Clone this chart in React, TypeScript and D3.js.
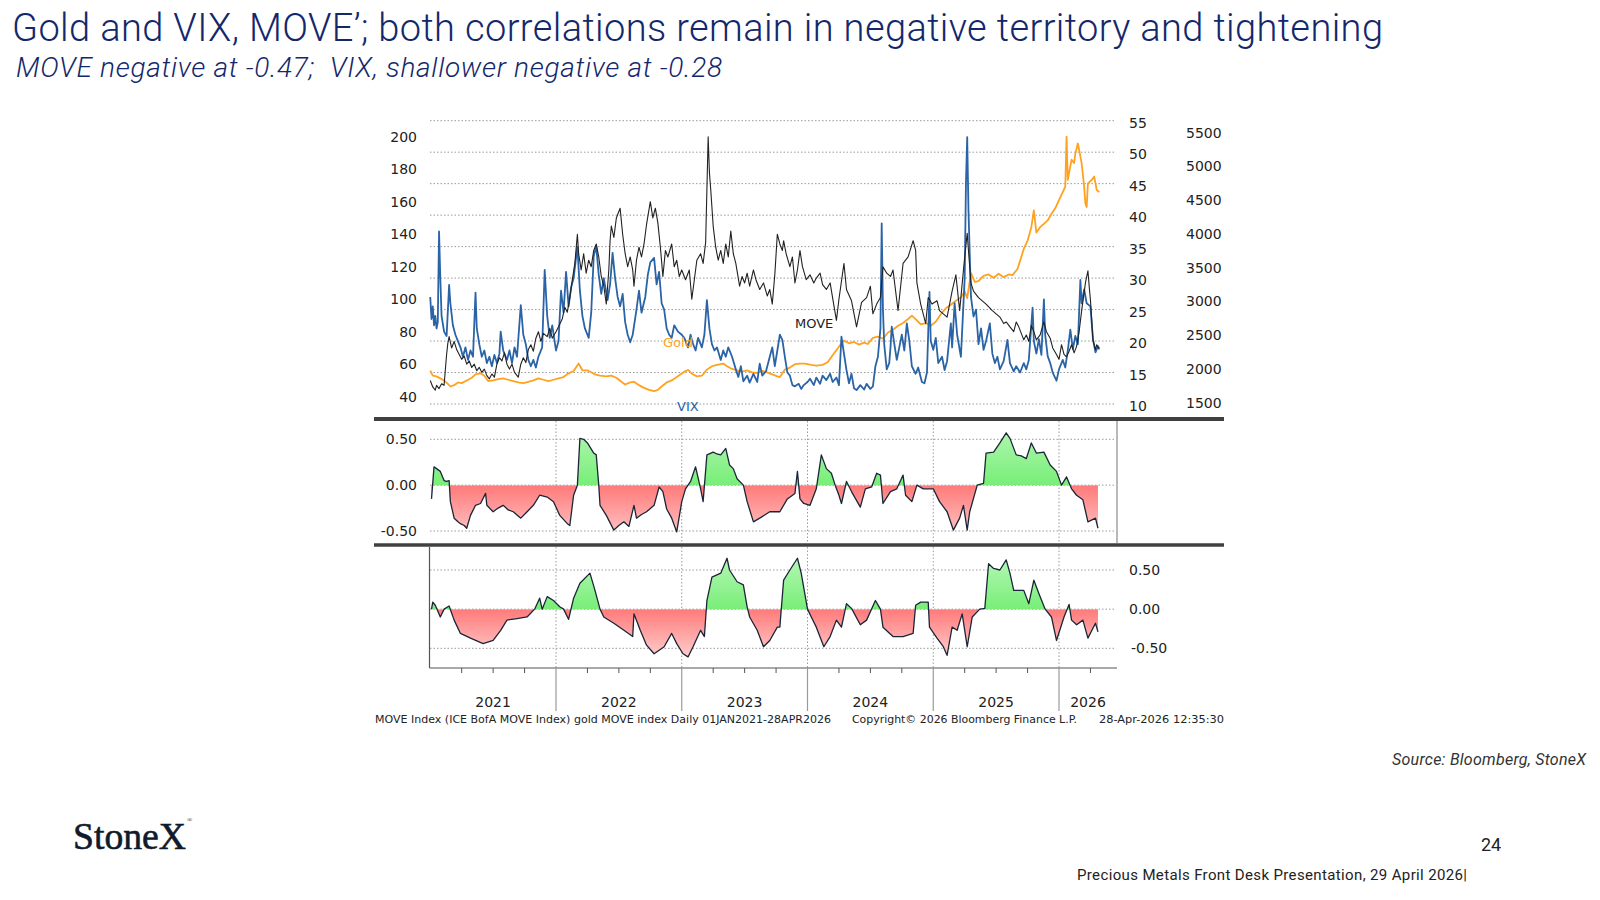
import React from "react";
import * as d3 from "d3";

type P = [number, number];

// ---------- DATA (fractional year, value) ----------
const YEARS = [2021, 2022, 2023, 2024, 2025, 2026];
const MOVE_TICKS = [40, 60, 80, 100, 120, 140, 160, 180, 200];
const VIX_TICKS = [10, 15, 20, 25, 30, 35, 40, 45, 50, 55];
const GOLD_TICKS = [1500, 2000, 2500, 3000, 3500, 4000, 4500, 5000, 5500];
const CORR_TICKS = [0.5, 0, -0.5];

const VIX: P[] = [
  [2021.0, 27.0], [2021.01, 23.5], [2021.02, 25.5], [2021.03, 22.5], [2021.04, 24.0], [2021.05, 22.0], [2021.06, 23.0],
  [2021.07, 37.4], [2021.08, 30.0], [2021.09, 24.0], [2021.11, 21.5], [2021.13, 20.8], [2021.15, 28.9], [2021.16, 26.0],
  [2021.18, 22.5], [2021.2, 21.0], [2021.22, 20.0], [2021.24, 19.0], [2021.26, 17.5], [2021.28, 19.0], [2021.3, 17.0],
  [2021.32, 18.5], [2021.34, 17.5], [2021.36, 27.7], [2021.37, 22.0], [2021.39, 19.5], [2021.41, 17.5], [2021.43, 18.5],
  [2021.45, 16.5], [2021.47, 17.5], [2021.49, 16.0], [2021.51, 17.8], [2021.53, 16.5], [2021.55, 18.0], [2021.56, 21.5],
  [2021.58, 18.5], [2021.61, 17.0], [2021.63, 18.5], [2021.65, 16.5], [2021.67, 19.0], [2021.69, 17.5], [2021.72, 25.7],
  [2021.74, 21.0], [2021.76, 19.5], [2021.78, 17.0], [2021.8, 16.0], [2021.82, 17.0], [2021.84, 15.8], [2021.86, 17.5],
  [2021.89, 19.0], [2021.91, 31.3], [2021.93, 24.0], [2021.95, 20.5], [2021.97, 22.5], [2022.0, 18.5], [2022.02, 20.0],
  [2022.04, 28.0], [2022.06, 24.5], [2022.08, 31.0], [2022.1, 25.5], [2022.12, 28.5], [2022.14, 30.0], [2022.17, 35.0],
  [2022.19, 28.0], [2022.21, 24.0], [2022.23, 22.0], [2022.26, 20.5], [2022.28, 24.5], [2022.3, 33.5], [2022.32, 35.0],
  [2022.34, 30.5], [2022.36, 27.5], [2022.38, 30.0], [2022.41, 26.5], [2022.43, 29.0], [2022.45, 34.0], [2022.47, 30.0],
  [2022.49, 27.0], [2022.51, 25.5], [2022.53, 27.5], [2022.55, 23.0], [2022.57, 21.0], [2022.59, 19.8], [2022.61, 21.0],
  [2022.64, 25.0], [2022.66, 28.0], [2022.68, 24.5], [2022.71, 27.0], [2022.73, 30.5], [2022.75, 32.5], [2022.78, 33.2],
  [2022.8, 29.0], [2022.82, 31.0], [2022.84, 26.0], [2022.86, 25.0], [2022.88, 22.0], [2022.9, 21.0], [2022.92, 20.5],
  [2022.94, 22.5], [2022.97, 21.5], [2023.0, 21.0], [2023.02, 20.5], [2023.05, 19.0], [2023.07, 21.0], [2023.09, 19.5],
  [2023.11, 18.5], [2023.13, 20.5], [2023.16, 19.0], [2023.18, 21.0], [2023.2, 26.5], [2023.22, 22.0], [2023.24, 19.5],
  [2023.26, 18.5], [2023.28, 19.0], [2023.31, 17.0], [2023.33, 18.5], [2023.35, 17.5], [2023.37, 19.0], [2023.4, 17.5],
  [2023.43, 15.5], [2023.45, 14.3], [2023.47, 16.0], [2023.49, 13.6], [2023.52, 14.5], [2023.54, 13.4], [2023.57, 14.8],
  [2023.6, 13.5], [2023.62, 16.4], [2023.64, 14.5], [2023.67, 15.2], [2023.7, 17.5], [2023.72, 19.0], [2023.74, 16.0],
  [2023.76, 18.5], [2023.78, 21.0], [2023.8, 20.2], [2023.82, 17.5], [2023.84, 15.0], [2023.86, 14.5], [2023.88, 13.0],
  [2023.9, 12.8], [2023.93, 13.2], [2023.95, 12.4], [2023.97, 13.0], [2024.0, 13.5], [2024.02, 14.0], [2024.05, 13.0],
  [2024.07, 14.2], [2024.1, 13.2], [2024.12, 14.5], [2024.15, 13.8], [2024.18, 14.8], [2024.2, 13.5], [2024.23, 14.2],
  [2024.25, 13.0], [2024.27, 20.7], [2024.29, 18.0], [2024.31, 15.4], [2024.33, 13.3], [2024.35, 14.8], [2024.37, 12.5],
  [2024.39, 12.2], [2024.42, 13.0], [2024.45, 12.3], [2024.47, 13.2], [2024.5, 12.4], [2024.52, 12.8], [2024.54, 16.0],
  [2024.56, 17.5], [2024.58, 22.0], [2024.59, 38.7], [2024.6, 25.0], [2024.61, 19.5], [2024.63, 15.5], [2024.65, 16.5],
  [2024.66, 19.0], [2024.67, 22.3], [2024.69, 19.6], [2024.71, 17.0], [2024.73, 19.0], [2024.75, 21.0], [2024.77, 18.5],
  [2024.79, 22.8], [2024.81, 20.0], [2024.83, 16.0], [2024.86, 14.8], [2024.88, 15.8], [2024.91, 13.5], [2024.93, 13.3],
  [2024.95, 15.0], [2024.97, 27.8], [2024.98, 20.0], [2025.0, 18.6], [2025.02, 20.5], [2025.04, 16.5], [2025.07, 17.5],
  [2025.09, 15.4], [2025.11, 16.8], [2025.14, 22.8], [2025.15, 19.0], [2025.17, 26.0], [2025.19, 21.0], [2025.22, 17.5],
  [2025.25, 30.0], [2025.26, 45.0], [2025.27, 52.4], [2025.28, 40.8], [2025.29, 33.9], [2025.3, 27.0], [2025.32, 23.9],
  [2025.34, 25.0], [2025.36, 19.5], [2025.38, 22.0], [2025.4, 18.6], [2025.42, 20.0], [2025.45, 22.8], [2025.47, 18.0],
  [2025.49, 16.5], [2025.51, 17.5], [2025.53, 15.5], [2025.56, 16.8], [2025.59, 20.2], [2025.61, 16.5], [2025.64, 15.2],
  [2025.66, 16.0], [2025.69, 15.0], [2025.72, 16.5], [2025.74, 15.5], [2025.76, 17.0], [2025.79, 25.3], [2025.8, 20.0],
  [2025.82, 18.0], [2025.84, 20.3], [2025.86, 17.8], [2025.88, 26.6], [2025.89, 21.0], [2025.91, 17.6], [2025.93, 16.5],
  [2025.95, 15.0], [2025.98, 13.7], [2026.0, 15.5], [2026.03, 17.0], [2026.05, 15.8], [2026.07, 18.5], [2026.09, 21.8],
  [2026.11, 18.7], [2026.13, 20.8], [2026.15, 19.5], [2026.17, 29.7], [2026.18, 26.0], [2026.2, 28.2], [2026.22, 26.0],
  [2026.25, 25.5], [2026.27, 20.3], [2026.29, 18.2], [2026.31, 19.2], [2026.32, 18.8],
];

const MOVE: P[] = [
  [2021.0, 50], [2021.02, 46], [2021.04, 44], [2021.05, 47], [2021.07, 45], [2021.09, 48], [2021.11, 47], [2021.13, 66],
  [2021.14, 73], [2021.15, 77], [2021.17, 70], [2021.19, 74], [2021.21, 69], [2021.23, 66], [2021.25, 63], [2021.27, 65],
  [2021.29, 60], [2021.31, 62], [2021.33, 58], [2021.35, 60], [2021.37, 56], [2021.39, 58], [2021.41, 55], [2021.43, 57],
  [2021.45, 53], [2021.47, 51], [2021.49, 54], [2021.51, 52], [2021.53, 60], [2021.55, 64], [2021.57, 62], [2021.59, 67],
  [2021.61, 60], [2021.63, 57], [2021.65, 60], [2021.67, 55], [2021.7, 52], [2021.72, 60], [2021.74, 64], [2021.76, 61],
  [2021.78, 69], [2021.8, 72], [2021.82, 68], [2021.84, 76], [2021.86, 80], [2021.88, 74], [2021.9, 79], [2021.93, 77],
  [2021.95, 82], [2021.97, 76], [2022.0, 80], [2022.02, 83], [2022.05, 88], [2022.07, 95], [2022.09, 92], [2022.11, 101],
  [2022.13, 112], [2022.15, 122], [2022.17, 140], [2022.18, 128], [2022.2, 118], [2022.22, 128], [2022.24, 116],
  [2022.26, 124], [2022.28, 120], [2022.3, 130], [2022.32, 134], [2022.34, 126], [2022.36, 114], [2022.38, 108],
  [2022.4, 97], [2022.42, 118], [2022.43, 136], [2022.44, 145], [2022.46, 138], [2022.48, 150], [2022.51, 156],
  [2022.53, 140], [2022.55, 128], [2022.57, 120], [2022.59, 126], [2022.61, 118], [2022.62, 108], [2022.64, 124],
  [2022.66, 132], [2022.68, 126], [2022.7, 134], [2022.72, 146], [2022.75, 160], [2022.77, 150], [2022.79, 156],
  [2022.81, 147], [2022.83, 132], [2022.85, 114], [2022.87, 130], [2022.89, 126], [2022.92, 134], [2022.94, 120],
  [2022.96, 124], [2022.98, 114], [2023.0, 118], [2023.03, 112], [2023.06, 118], [2023.08, 100], [2023.1, 112],
  [2023.12, 124], [2023.15, 128], [2023.17, 122], [2023.19, 135], [2023.21, 200], [2023.22, 178], [2023.23, 168],
  [2023.25, 145], [2023.27, 132], [2023.29, 124], [2023.31, 130], [2023.33, 122], [2023.35, 134], [2023.37, 126],
  [2023.39, 142], [2023.41, 128], [2023.43, 122], [2023.46, 108], [2023.48, 114], [2023.5, 110], [2023.52, 116],
  [2023.54, 108], [2023.57, 118], [2023.59, 112], [2023.62, 106], [2023.65, 110], [2023.68, 102], [2023.7, 106],
  [2023.72, 97], [2023.74, 115], [2023.76, 140], [2023.78, 134], [2023.8, 130], [2023.81, 136], [2023.83, 128],
  [2023.86, 120], [2023.88, 126], [2023.9, 110], [2023.92, 118], [2023.94, 130], [2023.96, 120], [2023.99, 112],
  [2024.02, 115], [2024.05, 110], [2024.07, 113], [2024.1, 116], [2024.12, 109], [2024.15, 106], [2024.18, 110],
  [2024.21, 96], [2024.23, 87], [2024.25, 100], [2024.29, 122], [2024.31, 106], [2024.35, 99], [2024.39, 83],
  [2024.43, 98], [2024.47, 101], [2024.5, 108], [2024.52, 91], [2024.55, 97], [2024.58, 101], [2024.6, 120],
  [2024.63, 116], [2024.66, 114], [2024.68, 118], [2024.72, 93], [2024.76, 122], [2024.8, 126], [2024.84, 136],
  [2024.86, 130], [2024.87, 110], [2024.9, 97], [2024.94, 85], [2024.96, 101], [2024.99, 97], [2025.03, 99],
  [2025.05, 93], [2025.11, 89], [2025.15, 105], [2025.18, 115], [2025.21, 93], [2025.25, 126], [2025.27, 140.5],
  [2025.28, 130], [2025.3, 110], [2025.32, 105], [2025.36, 101], [2025.42, 97], [2025.47, 93], [2025.53, 89],
  [2025.56, 85], [2025.58, 86], [2025.61, 83], [2025.64, 80], [2025.66, 86], [2025.68, 83], [2025.7, 79],
  [2025.72, 75], [2025.74, 78], [2025.76, 74], [2025.78, 84], [2025.8, 80], [2025.82, 75], [2025.85, 78],
  [2025.88, 86], [2025.9, 80], [2025.93, 76], [2025.95, 70], [2025.98, 66], [2026.0, 63], [2026.02, 72],
  [2026.04, 66], [2026.06, 64.5], [2026.08, 68], [2026.1, 72], [2026.12, 67], [2026.14, 71], [2026.16, 80],
  [2026.18, 93], [2026.2, 104], [2026.21, 110], [2026.23, 117.5], [2026.24, 108], [2026.25, 99.5], [2026.27, 75],
  [2026.29, 69], [2026.3, 72], [2026.32, 69],
];

const GOLD: P[] = [
  [2021.0, 1975], [2021.02, 1900], [2021.05, 1890], [2021.08, 1860], [2021.11, 1830], [2021.14, 1780], [2021.16, 1740],
  [2021.19, 1760], [2021.22, 1800], [2021.25, 1790], [2021.29, 1830], [2021.33, 1870], [2021.36, 1920], [2021.4, 1935],
  [2021.43, 1900], [2021.46, 1820], [2021.5, 1830], [2021.54, 1850], [2021.58, 1860], [2021.62, 1840], [2021.66, 1820],
  [2021.7, 1800], [2021.74, 1790], [2021.78, 1810], [2021.82, 1830], [2021.86, 1860], [2021.9, 1840], [2021.94, 1820],
  [2021.98, 1840], [2022.02, 1860], [2022.06, 1880], [2022.1, 1935], [2022.14, 1970], [2022.18, 2080], [2022.21, 1980],
  [2022.25, 1980], [2022.28, 1950], [2022.31, 1920], [2022.35, 1900], [2022.4, 1890], [2022.44, 1900], [2022.48, 1870],
  [2022.52, 1810], [2022.55, 1770], [2022.59, 1800], [2022.62, 1810], [2022.66, 1760], [2022.7, 1720], [2022.74, 1690],
  [2022.78, 1670], [2022.81, 1690], [2022.84, 1740], [2022.88, 1800], [2022.92, 1830], [2022.96, 1880], [2023.02, 1960],
  [2023.05, 1985], [2023.08, 1930], [2023.12, 1890], [2023.16, 1900], [2023.2, 1990], [2023.24, 2040], [2023.28, 2060],
  [2023.33, 2080], [2023.36, 2040], [2023.4, 2000], [2023.44, 1980], [2023.48, 1960], [2023.52, 1980], [2023.56, 1950],
  [2023.6, 1940], [2023.64, 1970], [2023.68, 1950], [2023.72, 1920], [2023.76, 1890], [2023.78, 1880], [2023.82, 1990],
  [2023.86, 2020], [2023.9, 2070], [2023.94, 2080], [2023.98, 2080], [2024.03, 2060], [2024.07, 2050], [2024.12, 2060],
  [2024.16, 2100], [2024.21, 2230], [2024.25, 2330], [2024.29, 2420], [2024.33, 2380], [2024.37, 2400], [2024.41, 2360],
  [2024.45, 2390], [2024.48, 2370], [2024.52, 2460], [2024.56, 2480], [2024.6, 2450], [2024.64, 2540], [2024.68, 2580],
  [2024.72, 2640], [2024.76, 2680], [2024.8, 2740], [2024.83, 2790], [2024.87, 2720], [2024.9, 2660], [2024.94, 2680],
  [2024.98, 2640], [2025.02, 2700], [2025.06, 2810], [2025.1, 2900], [2025.14, 2950], [2025.18, 3010], [2025.22, 3060],
  [2025.25, 3150], [2025.27, 3050], [2025.3, 3420], [2025.33, 3290], [2025.36, 3300], [2025.4, 3380], [2025.44, 3400],
  [2025.48, 3350], [2025.52, 3410], [2025.56, 3360], [2025.6, 3400], [2025.63, 3390], [2025.67, 3480], [2025.7, 3660],
  [2025.72, 3780], [2025.75, 3900], [2025.78, 4100], [2025.8, 4350], [2025.82, 4020], [2025.85, 4100], [2025.88, 4150],
  [2025.91, 4200], [2025.94, 4300], [2025.97, 4380], [2026.0, 4500], [2026.03, 4620], [2026.05, 4700], [2026.06, 5440],
  [2026.07, 4800], [2026.1, 5100], [2026.12, 5050], [2026.13, 5190], [2026.15, 5340], [2026.17, 5150], [2026.18, 5050],
  [2026.2, 4700], [2026.21, 4450], [2026.22, 4400], [2026.23, 4750], [2026.26, 4800], [2026.28, 4850], [2026.3, 4650],
  [2026.32, 4620],
];

// Gold vs MOVE correlation (middle panel)
const CORR_MOVE: P[] = [
  [2021.01, -0.15], [2021.03, 0.2], [2021.05, 0.18], [2021.08, 0.15], [2021.11, 0.05], [2021.13, 0.04], [2021.15, 0.05],
  [2021.16, -0.18], [2021.19, -0.36], [2021.22, -0.4], [2021.24, -0.42], [2021.27, -0.44], [2021.29, -0.47], [2021.32, -0.33],
  [2021.36, -0.22], [2021.4, -0.2], [2021.44, -0.09], [2021.45, -0.22], [2021.5, -0.29], [2021.54, -0.25], [2021.58, -0.22],
  [2021.62, -0.27], [2021.66, -0.29], [2021.72, -0.36], [2021.77, -0.29], [2021.82, -0.22], [2021.87, -0.11], [2021.93, -0.13],
  [2021.98, -0.18], [2022.03, -0.33], [2022.09, -0.42], [2022.11, -0.44], [2022.14, -0.11], [2022.17, 0.0], [2022.19, 0.51],
  [2022.22, 0.5], [2022.25, 0.46], [2022.3, 0.35], [2022.32, 0.33], [2022.34, 0.0], [2022.35, -0.22], [2022.4, -0.33],
  [2022.46, -0.49], [2022.5, -0.44], [2022.54, -0.4], [2022.58, -0.45], [2022.62, -0.22], [2022.64, -0.36], [2022.68, -0.32],
  [2022.72, -0.29], [2022.78, -0.22], [2022.82, -0.02], [2022.85, -0.07], [2022.88, -0.26], [2022.92, -0.36], [2022.96, -0.51],
  [2023.0, -0.18], [2023.03, -0.04], [2023.07, 0.04], [2023.11, 0.2], [2023.15, -0.04], [2023.17, -0.18], [2023.2, 0.33],
  [2023.25, 0.36], [2023.28, 0.34], [2023.31, 0.33], [2023.35, 0.4], [2023.38, 0.22], [2023.41, 0.18], [2023.44, 0.07],
  [2023.49, 0.0], [2023.52, -0.18], [2023.57, -0.4], [2023.62, -0.36], [2023.7, -0.29], [2023.78, -0.29], [2023.84, -0.15],
  [2023.9, -0.09], [2023.92, 0.15], [2023.94, -0.15], [2023.97, -0.2], [2024.02, -0.22], [2024.07, -0.04], [2024.11, 0.33],
  [2024.15, 0.18], [2024.19, 0.13], [2024.22, 0.0], [2024.25, -0.11], [2024.27, -0.2], [2024.31, 0.04], [2024.35, -0.07],
  [2024.42, -0.24], [2024.46, -0.04], [2024.51, -0.02], [2024.55, 0.13], [2024.58, 0.11], [2024.6, -0.2], [2024.66, -0.07],
  [2024.71, -0.04], [2024.76, 0.11], [2024.78, -0.11], [2024.83, -0.18], [2024.87, 0.0], [2024.92, -0.04], [2025.0, -0.04],
  [2025.05, -0.18], [2025.11, -0.29], [2025.16, -0.49], [2025.21, -0.36], [2025.24, -0.22], [2025.27, -0.49], [2025.29, -0.29],
  [2025.35, 0.0], [2025.4, 0.02], [2025.42, 0.35], [2025.48, 0.36], [2025.53, 0.46], [2025.58, 0.57], [2025.61, 0.51],
  [2025.66, 0.33], [2025.7, 0.32], [2025.74, 0.29], [2025.78, 0.46], [2025.82, 0.35], [2025.88, 0.36], [2025.93, 0.22],
  [2025.98, 0.15], [2026.02, 0.0], [2026.06, 0.09], [2026.1, -0.04], [2026.14, -0.11], [2026.19, -0.16], [2026.23, -0.4],
  [2026.29, -0.36], [2026.31, -0.47],
];

// Gold vs VIX correlation (bottom panel)
const CORR_VIX: P[] = [
  [2021.01, 0.0], [2021.02, 0.09], [2021.04, 0.05], [2021.08, -0.1], [2021.11, 0.0], [2021.15, 0.04], [2021.19, -0.14],
  [2021.24, -0.31], [2021.32, -0.37], [2021.42, -0.44], [2021.5, -0.4], [2021.56, -0.27], [2021.61, -0.14], [2021.69, -0.12],
  [2021.77, -0.1], [2021.83, 0.0], [2021.87, 0.14], [2021.89, 0.0], [2021.93, 0.16], [2021.98, 0.11], [2022.03, 0.03],
  [2022.06, 0.0], [2022.1, -0.13], [2022.14, 0.14], [2022.19, 0.33], [2022.27, 0.46], [2022.31, 0.24], [2022.35, 0.0],
  [2022.38, -0.1], [2022.46, -0.18], [2022.54, -0.27], [2022.61, -0.35], [2022.62, -0.06], [2022.67, -0.27], [2022.72, -0.46],
  [2022.78, -0.57], [2022.86, -0.48], [2022.92, -0.31], [2022.96, -0.44], [2023.01, -0.57], [2023.05, -0.61], [2023.09, -0.48],
  [2023.15, -0.27], [2023.18, -0.35], [2023.2, 0.11], [2023.24, 0.41], [2023.31, 0.46], [2023.36, 0.65], [2023.38, 0.5],
  [2023.44, 0.35], [2023.49, 0.31], [2023.52, 0.03], [2023.54, -0.1], [2023.6, -0.27], [2023.65, -0.48], [2023.7, -0.4],
  [2023.76, -0.23], [2023.78, -0.23], [2023.81, 0.37], [2023.86, 0.5], [2023.92, 0.65], [2023.95, 0.46], [2024.0, 0.0],
  [2024.03, -0.1], [2024.07, -0.23], [2024.13, -0.48], [2024.18, -0.35], [2024.23, -0.14], [2024.27, -0.23], [2024.31, 0.07],
  [2024.35, 0.01], [2024.42, -0.2], [2024.47, -0.14], [2024.54, 0.11], [2024.58, 0.0], [2024.6, -0.23], [2024.68, -0.35],
  [2024.76, -0.35], [2024.84, -0.31], [2024.86, 0.05], [2024.9, 0.09], [2024.96, 0.09], [2024.97, -0.23], [2025.03, -0.37],
  [2025.08, -0.48], [2025.11, -0.59], [2025.15, -0.23], [2025.19, -0.27], [2025.23, -0.06], [2025.27, -0.48], [2025.31, -0.1],
  [2025.37, 0.0], [2025.41, 0.01], [2025.44, 0.58], [2025.48, 0.52], [2025.53, 0.5], [2025.58, 0.63], [2025.61, 0.46],
  [2025.64, 0.24], [2025.72, 0.24], [2025.76, 0.07], [2025.8, 0.37], [2025.84, 0.2], [2025.89, 0.0], [2025.94, -0.1],
  [2025.98, -0.4], [2026.04, -0.1], [2026.08, 0.06], [2026.1, -0.14], [2026.14, -0.2], [2026.19, -0.14], [2026.23, -0.37],
  [2026.29, -0.18], [2026.31, -0.29],
];

// ---------- STYLE ----------
const NAVY = "#13286b";
const CHART_FONT = "'DejaVu Sans', Verdana, sans-serif";
const GRID = "#9a9a9a";

export default function App() {
  const x = d3.scaleLinear().domain([2021, 2026]).range([430.25, 1059]);
  const xEnd = 1117;
  const gridRight = 1115;

  const yMove = d3.scaleLinear().domain([40, 200]).range([396.7, 136.7]);
  const yVix = d3.scaleLinear().domain([10, 55]).range([404, 120.7]);
  const yGold = d3.scaleLinear().domain([1500, 5500]).range([402.7, 132.7]);
  const yC1 = d3.scaleLinear().domain([-0.5, 0.5]).range([531, 439.3]);
  const yC2 = d3.scaleLinear().domain([-0.5, 0.5]).range([648.3, 570]);

  const lineOf = (ys: d3.ScaleLinear<number, number>) =>
    d3.line<P>().x((d) => x(d[0])).y((d) => ys(d[1]));
  const areaOf = (ys: d3.ScaleLinear<number, number>) =>
    d3.area<P>().x((d) => x(d[0])).y0(ys(0)).y1((d) => ys(d[1]));

  const quarterTicks: number[] = [];
  YEARS.forEach((yr) => [0.25, 0.5, 0.75].forEach((q) => { if (x(yr + q) < xEnd - 5) quarterTicks.push(yr + q); }));

  const corrPanel = (
    id: string,
    data: P[],
    ys: d3.ScaleLinear<number, number>,
    top: number,
    bottom: number
  ) => {
    const z = ys(0);
    return (
      <g>
        <defs>
          <clipPath id={`${id}-pos`}><rect x={420} y={top} width={720} height={z - top} /></clipPath>
          <clipPath id={`${id}-neg`}><rect x={420} y={z} width={720} height={bottom - z} /></clipPath>
          <linearGradient id={`${id}-g`} gradientUnits="userSpaceOnUse" x1={0} x2={0} y1={ys(0.65)} y2={z}>
            <stop offset="0" stopColor="#b4f7b4" />
            <stop offset="1" stopColor="#78ee78" />
          </linearGradient>
          <linearGradient id={`${id}-r`} gradientUnits="userSpaceOnUse" x1={0} x2={0} y1={z} y2={ys(-0.65)}>
            <stop offset="0" stopColor="#ff7a7a" />
            <stop offset="1" stopColor="#ffd2d2" />
          </linearGradient>
        </defs>
        {CORR_TICKS.map((t) => (
          <line key={t} x1={430} x2={gridRight} y1={ys(t)} y2={ys(t)} stroke={GRID} strokeWidth={1} strokeDasharray="1.5 2" />
        ))}
        {YEARS.slice(1).map((yr) => (
          <line key={yr} x1={x(yr)} x2={x(yr)} y1={top} y2={bottom} stroke={GRID} strokeWidth={1} strokeDasharray="1.5 2" />
        ))}
        <path d={areaOf(ys)(data) || ""} fill={`url(#${id}-g)`} clipPath={`url(#${id}-pos)`} />
        <path d={areaOf(ys)(data) || ""} fill={`url(#${id}-r)`} clipPath={`url(#${id}-neg)`} />
        <path d={lineOf(ys)(data) || ""} fill="none" stroke="#1b2538" strokeWidth={1.3} strokeLinejoin="round" />
      </g>
    );
  };

  return (
    <svg
      width={1600}
      height={900}
      viewBox="0 0 1600 900"
      style={{ position: "fixed", left: 0, top: 0, background: "#ffffff" }}
    >
      <rect x={0} y={0} width={1600} height={900} fill="#ffffff" />

      {/* Titles */}
      <text x={12} y={41} fontFamily="Roboto, 'Open Sans', sans-serif" fontWeight={300} fontSize={38} fill={NAVY}
        textLength={1371} lengthAdjust="spacing">
        Gold and VIX, MOVE’; both correlations remain in negative territory and tightening
      </text>
      <text x={16} y={77} fontFamily="Roboto, 'Open Sans', sans-serif" fontWeight={300} fontStyle="italic" fontSize={28}
        fill={NAVY} textLength={706} lengthAdjust="spacing" xmlSpace="preserve">
        MOVE negative at -0.47;  VIX, shallower negative at -0.28
      </text>

      {/* ---------- Top panel ---------- */}
      {VIX_TICKS.map((t) => (
        <line key={t} x1={430} x2={gridRight} y1={yVix(t)} y2={yVix(t)} stroke={GRID} strokeWidth={1} strokeDasharray="1.5 2" />
      ))}
      <path d={lineOf(yGold)(GOLD) || ""} fill="none" stroke="#ffa21f" strokeWidth={1.8} strokeLinejoin="round" />
      <path d={lineOf(yVix)(VIX) || ""} fill="none" stroke="#2a64a6" strokeWidth={1.8} strokeLinejoin="round" />
      <path d={lineOf(yMove)(MOVE) || ""} fill="none" stroke="#222222" strokeWidth={1.1} strokeLinejoin="round" />

      {MOVE_TICKS.map((t) => (
        <text key={t} x={417} y={yMove(t)} dy="0.36em" textAnchor="end" fontFamily={CHART_FONT} fontSize={14} fill="#222">{t}</text>
      ))}
      {VIX_TICKS.map((t) => (
        <text key={t} x={1129} y={yVix(t)} dy="0.5em" fontFamily={CHART_FONT} fontSize={14} fill="#222">{t}</text>
      ))}
      {GOLD_TICKS.map((t) => (
        <text key={t} x={1186} y={yGold(t)} dy="0.36em" fontFamily={CHART_FONT} fontSize={14} fill="#222">{t}</text>
      ))}

      <text x={795} y={328} fontFamily={CHART_FONT} fontSize={13} fill="#222">MOVE</text>
      <text x={663} y={347} fontFamily={CHART_FONT} fontSize={13} fill="#ffa21f">Gold</text>
      <text x={677} y={411} fontFamily={CHART_FONT} fontSize={13} fill="#2a64a6">VIX</text>

      {/* ---------- Middle panel (Gold / MOVE correlation) ---------- */}
      {corrPanel("c1", CORR_MOVE, yC1, 421, 543)}
      <line x1={xEnd} x2={xEnd} y1={421} y2={543} stroke="#8a8a8a" strokeWidth={1.2} />
      {CORR_TICKS.map((t) => (
        <text key={t} x={417} y={yC1(t)} dy="0.36em" textAnchor="end" fontFamily={CHART_FONT} fontSize={14} fill="#222">
          {t.toFixed(2)}
        </text>
      ))}

      {/* ---------- Bottom panel (Gold / VIX correlation) ---------- */}
      {corrPanel("c2", CORR_VIX, yC2, 547, 668)}
      <line x1={429.5} x2={429.5} y1={547} y2={668} stroke="#555" strokeWidth={1.2} />
      <line x1={429.5} x2={xEnd} y1={668} y2={668} stroke="#555" strokeWidth={1.2} />
      {quarterTicks.map((q) => (
        <line key={q} x1={x(q)} x2={x(q)} y1={668} y2={673} stroke="#555" strokeWidth={1} />
      ))}
      {YEARS.slice(1).map((yr) => (
        <line key={yr} x1={x(yr)} x2={x(yr)} y1={668} y2={711} stroke="#9a9a9a" strokeWidth={1.2} />
      ))}
      {CORR_TICKS.map((t) => (
        <text key={t} x={t < 0 ? 1131 : 1129} y={yC2(t)} dy="0.36em" fontFamily={CHART_FONT} fontSize={14} fill="#222">
          {t.toFixed(2)}
        </text>
      ))}
      {YEARS.map((yr) => {
        const cx = yr < 2026 ? x(yr + 0.5) : (x(yr) + xEnd) / 2;
        return (
          <text key={yr} x={cx} y={707} textAnchor="middle" fontFamily={CHART_FONT} fontSize={14} fill="#222">{yr}</text>
        );
      })}

      {/* Separators */}
      <line x1={374} x2={1224} y1={419} y2={419} stroke="#404040" strokeWidth={4} />
      <line x1={374} x2={1224} y1={545} y2={545} stroke="#404040" strokeWidth={3.5} />

      {/* Bloomberg footer */}
      <text x={375} y={723} fontFamily={CHART_FONT} fontSize={10.5} fill="#222" textLength={456} lengthAdjust="spacingAndGlyphs">
        MOVE Index (ICE BofA MOVE Index) gold MOVE index Daily 01JAN2021-28APR2026
      </text>
      <text x={852} y={723} fontFamily={CHART_FONT} fontSize={10.5} fill="#222" textLength={225} lengthAdjust="spacingAndGlyphs">
        Copyright© 2026 Bloomberg Finance L.P.
      </text>
      <text x={1099} y={723} fontFamily={CHART_FONT} fontSize={10.5} fill="#222" textLength={125} lengthAdjust="spacingAndGlyphs">
        28-Apr-2026 12:35:30
      </text>

      {/* Slide footer */}
      <text x={1586} y={765} textAnchor="end" fontFamily="Roboto, sans-serif" fontStyle="italic" fontSize={16} fill="#333"
        textLength={194} lengthAdjust="spacing">
        Source: Bloomberg, StoneX
      </text>
      <text x={1481} y={851} fontFamily="Roboto, sans-serif" fontSize={18} fill="#222">24</text>
      <text x={1077} y={880} fontFamily="Roboto, sans-serif" fontSize={15} fill="#222" textLength={390} lengthAdjust="spacing">
        Precious Metals Front Desk Presentation, 29 April 2026|
      </text>
      <text x={73} y={849} fontFamily="'Liberation Serif', 'DejaVu Serif', serif" fontWeight={400} fontSize={38} fill="#111a2b"
        stroke="#111a2b" strokeWidth={0.6} textLength={113} lengthAdjust="spacingAndGlyphs">
        StoneX
      </text>
      <text x={187} y={822} fontFamily="'Liberation Serif', serif" fontSize={7} fill="#111a2b">®</text>
    </svg>
  );
}
